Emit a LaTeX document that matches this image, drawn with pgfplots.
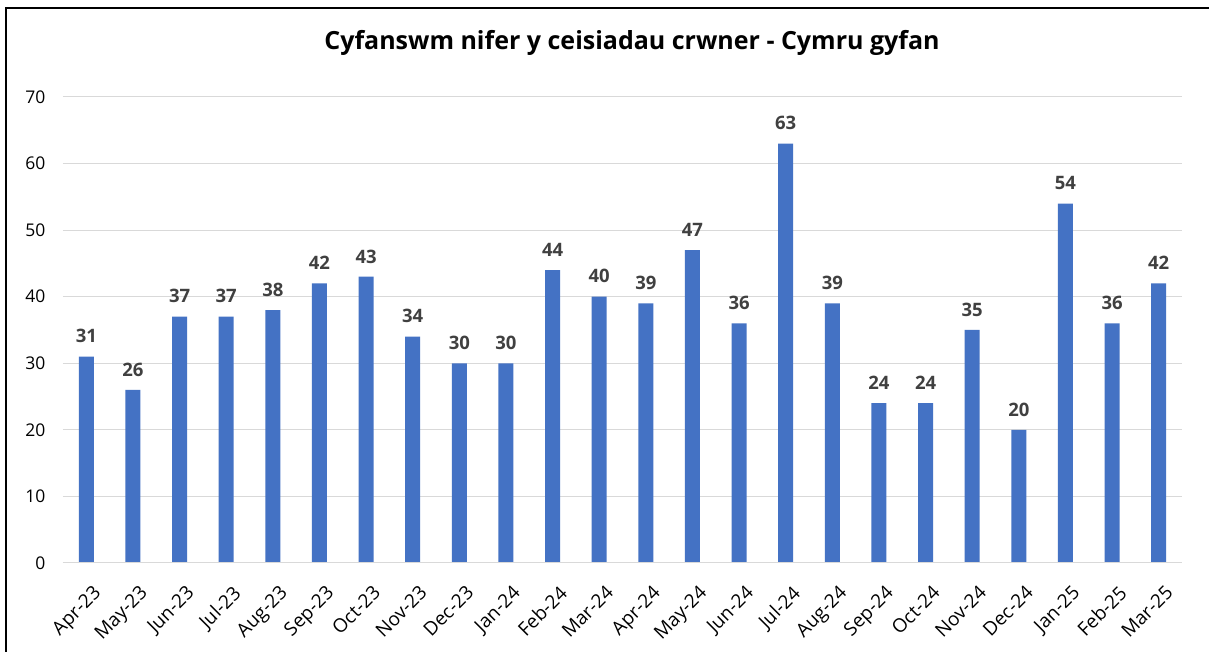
\documentclass[border=0pt]{standalone}
\usepackage{pgfplots}
\pgfplotsset{compat=1.18}
\usepackage{fontspec}
\setmainfont{Open Sans}
\definecolor{barblue}{HTML}{4472C4}
\definecolor{gridgray}{HTML}{D9D9D9}
\definecolor{lblgray}{HTML}{404040}
\begin{document}
\begin{tikzpicture}
\useasboundingbox (0pt,0pt) rectangle (1209pt,652pt);
\fill[white] (0pt,0pt) rectangle (1209pt,652pt);
\draw[line width=2.5pt,black] (6pt,0pt) -- (6pt,644pt) -- (1209pt,644pt);
\node[font=\fontsize{25}{30}\selectfont\bfseries] at (632pt,609pt) {Cyfanswm nifer y ceisiadau crwner - Cymru gyfan};
\begin{axis}[
  at={(63pt,89pt)}, anchor=south west,
  scale only axis, width=1119pt, height=466pt,
  xmin=-0.5, xmax=23.5, ymin=0, ymax=70,
  ytick={0,10,...,70},
  xtick={0,...,23},
  xticklabels={Apr-23,May-23,Jun-23,Jul-23,Aug-23,Sep-23,Oct-23,Nov-23,Dec-23,Jan-24,Feb-24,Mar-24,Apr-24,May-24,Jun-24,Jul-24,Aug-24,Sep-24,Oct-24,Nov-24,Dec-24,Jan-25,Feb-25,Mar-25},
  axis line style={draw=none},
  ymajorgrids, grid style={gridgray, line width=1pt},
  major tick length=0pt,
  tick label style={font=\fontsize{17.5}{20}\selectfont, text=black},
  /pgf/number format/assume math mode=true,
  xticklabel style={font=\fontsize{19}{22}\selectfont, rotate=45, anchor=north east, inner sep=2pt, xshift=-9pt, yshift=-17pt},
  yticklabel style={anchor=east, xshift=-14pt},
  ]
\addplot[ybar, bar width=15pt, fill=barblue, draw=none,
  nodes near coords, every node near coord/.append style={font=\fontsize{18.5}{22}\selectfont\bfseries, text=lblgray, yshift=10pt}]
 coordinates {(0,31)(1,26)(2,37)(3,37)(4,38)(5,42)(6,43)(7,34)(8,30)(9,30)(10,44)(11,40)(12,39)(13,47)(14,36)(15,63)(16,39)(17,24)(18,24)(19,35)(20,20)(21,54)(22,36)(23,42)};
\draw[gridgray, line width=1.5pt] (rel axis cs:0,0) -- (rel axis cs:1,0);
\end{axis}
\end{tikzpicture}
\end{document}
